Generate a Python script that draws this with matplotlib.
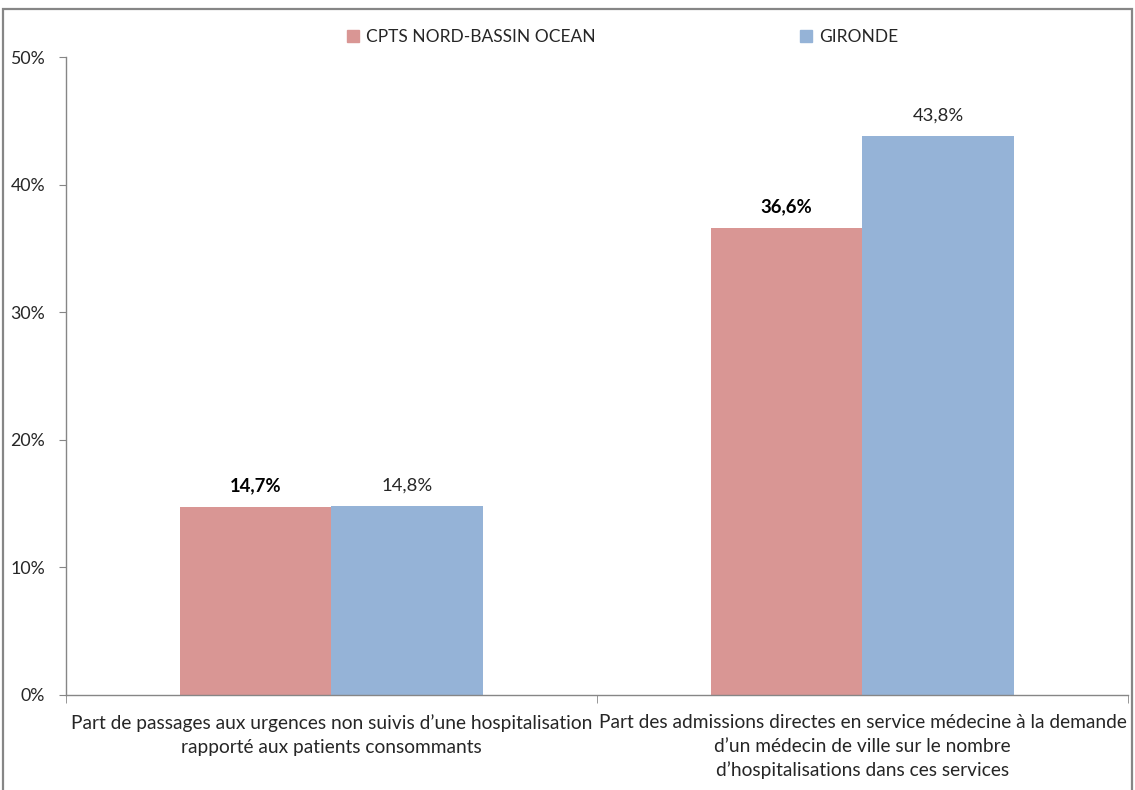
import numpy as np
import matplotlib.pyplot as plt
from matplotlib.patches import Rectangle, Patch

plt.rcParams['font.family'] = ['Lato', 'DejaVu Sans']

# data
categories = ["Part de passages aux urgences non suivis d\u2019une hospitalisation\nrapport\u00e9 aux patients consommants",
              "Part des admissions directes en service m\u00e9decine \u00e0 la demande\nd\u2019un m\u00e9decin de ville sur le nombre\nd\u2019hospitalisations dans ces services"]
series_names = ["CPTS NORD-BASSIN OCEAN", "GIRONDE"]
cpts_values = [14.7, 36.6]
gironde_values = [14.8, 43.8]
yticks = [0, 10, 20, 30, 40, 50]

red = '#D99694'
blue = '#95B3D7'
txt = '#262626'

fig = plt.figure(figsize=(11.35, 7.90), dpi=100)
ax = fig.add_axes([0.0581, 0.1203, 0.9357, 0.8075])

x = np.arange(len(categories))
w = 0.286
ax.bar(x - w / 2, cpts_values, w, color=red)
ax.bar(x + w / 2, gironde_values, w, color=blue)

def fmt(v):
    return ('%.1f%%' % v).replace('.', ',')

for xi, v in zip(x, cpts_values):
    ax.text(xi - w / 2, v + 1.0, fmt(v), ha='center', va='bottom', fontsize=13.3,
            fontweight='bold', color='black')
for xi, v in zip(x, gironde_values):
    ax.text(xi + w / 2, v + 1.0, fmt(v), ha='center', va='bottom', fontsize=13.3,
            color=txt)

ax.set_xlim(-0.5, len(categories) - 0.5)
ax.set_ylim(0, 50)
ax.set_yticks(yticks)
ax.set_yticklabels(['%d%%' % t for t in yticks], fontsize=12.8, color=txt)
ax.tick_params(axis='y', length=5, color='#868686', pad=10)

ax.set_xticks(x)
ax.set_xticklabels(categories, fontsize=13.8, color=txt, linespacing=1.45, va='top')
ax.tick_params(axis='x', which='major', length=0, pad=14)
ax.set_xticks(np.arange(len(categories) + 1) - 0.5, minor=True)
ax.tick_params(axis='x', which='minor', length=6, color='#868686')

for s in ['top', 'right']:
    ax.spines[s].set_visible(False)
for s in ['left', 'bottom']:
    ax.spines[s].set_color('#868686')
    ax.spines[s].set_linewidth(1.0)

handles = [Patch(color=red), Patch(color=blue)]
fig.legend(handles, series_names, loc='center', bbox_to_anchor=(0.5485, 0.953), ncol=2,
           frameon=False, fontsize=12.5, handlelength=0.7, handleheight=0.7,
           handletextpad=0.4, columnspacing=11.8, labelcolor=txt)

# outer chart frame
fig.patches.append(Rectangle((0.003, -0.02), 0.994, 1.008, transform=fig.transFigure,
                             fill=False, edgecolor='#868686', linewidth=1.6))

fig.savefig('out.png', dpi=100)
